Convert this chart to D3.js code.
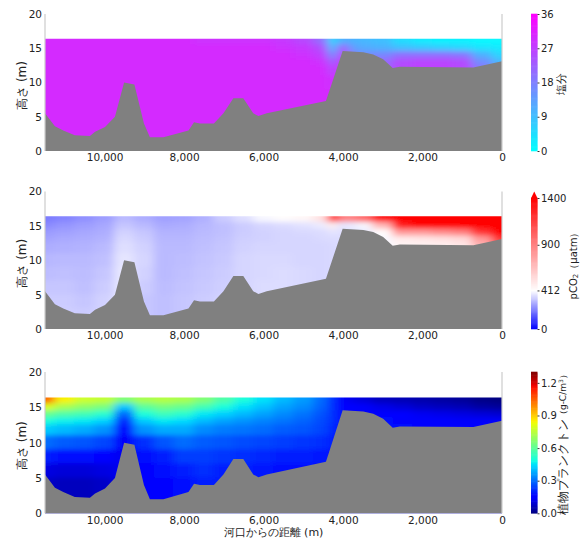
<!DOCTYPE html>
<html>
<head>
<meta charset="utf-8">
<script src="https://cdn.jsdelivr.net/npm/d3@7"></script>
<style>
  body { margin: 0; background: #fff; }
  text { font-family: "DejaVu Sans", sans-serif; }
</style>
</head>
<body>
<div id="chart"></div>
<script>
// river bed profile (distance from mouth in m, elevation in m)
const bedDist = [11500, 11250, 11040, 10750, 10370, 10240, 9990, 9740, 9510, 9250, 9010, 8860, 8520, 7890, 7750, 7600, 7250, 7010, 6760, 6510, 6260, 6130, 5920, 4430, 4010, 3490, 3240, 2990, 2750, 2570, 720, 0];
const bedElev = [5.5, 3.6, 3.0, 2.3, 2.2, 2.8, 3.5, 5.0, 10.0, 9.7, 4.0, 2.0, 2.0, 3.0, 4.2, 4.0, 4.0, 5.5, 7.7, 7.7, 5.5, 5.1, 5.5, 7.3, 14.6, 14.4, 14.1, 13.4, 12.1, 12.3, 12.2, 13.1];
const surfaceElev = 16.4;

// grid of the water-quality fields: columns (m from mouth) and rows (elevation m)
const gridDist = [11500, 11000, 10500, 10000, 9500, 9000, 8500, 8000, 7500, 7000, 6500, 6000, 5500, 5000, 4500, 4250, 4000, 3750, 3500, 3000, 2500, 2000, 1500, 1000, 500, 0];
const gridElev = [16, 15, 14, 13, 12, 10, 8, 6, 4, 2];

const salinity = [
  [30,30,30,30,30,30,30,30,29,29,29,29,28,26,21,6,12,11,10,9,5,3,2,2,1,1],
  [30,30,30,30,30,30,30,30,30,30,30,30,29,28,25,10,23,14,12,11,9,8,7,6,4,3],
  [30,30,30,30,30,30,30,30,30,30,30,30,30,29,27,16,27,18,16,17,20,20,20,19,11,6],
  [30,30,30,30,30,30,30,30,30,30,30,30,30,30,29,22,28,22,20,21,25,26,26,25,16,10],
  [30,30,30,30,30,30,30,30,30,30,30,30,30,30,30,26,29,25,24,22,26,27,27,26,19,13],
  [30,30,30,30,30,30,30,30,30,30,30,30,30,30,30,29,30,28,26,22,26,27,27,26,19,13],
  [30,30,30,30,30,30,30,30,30,30,30,30,30,30,30,30,30,28,26,22,26,27,27,26,19,13],
  [30,30,30,30,30,30,30,30,30,30,30,30,30,30,30,30,30,28,26,22,26,27,27,26,19,13],
  [30,30,30,30,30,30,30,30,30,30,30,30,30,30,30,30,30,28,26,22,26,27,27,26,19,13],
  [30,30,30,30,30,30,30,30,30,30,30,30,30,30,30,30,30,28,26,22,26,27,27,26,19,13]
];

const pco2 = [
  [200,215,235,255,300,280,260,265,285,330,360,400,420,440,520,1300,900,900,1000,1400,1500,1500,1500,1500,1500,1500],
  [225,240,255,270,320,300,275,280,295,310,330,345,355,365,380,480,370,380,400,700,1300,1400,1400,1400,1450,1500],
  [250,260,270,280,340,320,290,290,300,310,330,340,345,350,355,370,360,370,380,420,800,800,850,900,1200,1400],
  [265,275,280,290,350,330,295,295,305,315,335,340,345,345,350,355,355,360,370,400,480,500,520,550,800,1200],
  [280,285,290,300,360,340,300,300,310,320,340,345,345,345,345,350,350,355,360,400,450,460,470,500,700,1000],
  [295,300,300,310,370,345,300,305,315,325,345,350,350,345,345,350,350,355,360,400,450,460,470,500,700,1000],
  [305,310,305,320,375,340,300,310,320,330,345,350,355,350,345,350,350,355,360,400,450,460,470,500,700,1000],
  [320,320,310,330,375,330,305,315,325,335,345,355,355,350,345,350,350,355,360,400,450,460,470,500,700,1000],
  [330,330,320,340,375,320,310,320,330,340,345,355,355,350,345,350,350,355,360,400,450,460,470,500,700,1000],
  [335,335,330,340,375,320,310,320,330,340,345,355,355,350,345,350,350,355,360,400,450,460,470,500,700,1000]
];

const phyto = [
  [1.05,0.85,0.78,0.76,0.66,0.72,0.74,0.72,0.66,0.58,0.5,0.45,0.4,0.36,0.3,0.22,0.14,0.12,0.1,0.07,0.06,0.05,0.04,0.03,0.01,0.0],
  [0.8,0.72,0.68,0.65,0.42,0.6,0.64,0.62,0.56,0.5,0.45,0.41,0.37,0.34,0.29,0.22,0.16,0.15,0.14,0.12,0.1,0.08,0.07,0.06,0.04,0.03],
  [0.62,0.58,0.56,0.52,0.3,0.5,0.55,0.52,0.46,0.43,0.4,0.37,0.34,0.31,0.27,0.22,0.18,0.17,0.17,0.16,0.15,0.13,0.12,0.11,0.1,0.09],
  [0.5,0.47,0.46,0.43,0.22,0.42,0.46,0.44,0.4,0.37,0.35,0.33,0.31,0.29,0.26,0.22,0.18,0.18,0.18,0.18,0.17,0.16,0.15,0.14,0.14,0.14],
  [0.42,0.4,0.38,0.35,0.18,0.35,0.38,0.38,0.34,0.32,0.31,0.3,0.28,0.27,0.25,0.21,0.18,0.18,0.18,0.18,0.18,0.17,0.16,0.15,0.15,0.15],
  [0.3,0.28,0.27,0.25,0.14,0.22,0.27,0.3,0.28,0.27,0.26,0.25,0.24,0.23,0.22,0.2,0.18,0.18,0.18,0.18,0.18,0.17,0.16,0.15,0.15,0.15],
  [0.2,0.18,0.18,0.17,0.13,0.18,0.2,0.24,0.24,0.23,0.22,0.21,0.2,0.2,0.19,0.18,0.18,0.18,0.18,0.18,0.18,0.17,0.16,0.15,0.15,0.15],
  [0.11,0.1,0.1,0.11,0.13,0.16,0.18,0.2,0.22,0.2,0.2,0.19,0.18,0.18,0.18,0.18,0.18,0.18,0.18,0.18,0.18,0.17,0.16,0.15,0.15,0.15],
  [0.08,0.07,0.07,0.08,0.13,0.16,0.17,0.18,0.2,0.2,0.2,0.19,0.18,0.18,0.18,0.18,0.18,0.18,0.18,0.18,0.18,0.17,0.16,0.15,0.15,0.15],
  [0.08,0.07,0.07,0.08,0.13,0.16,0.17,0.18,0.2,0.2,0.2,0.19,0.18,0.18,0.18,0.18,0.18,0.18,0.18,0.18,0.18,0.17,0.16,0.15,0.15,0.15]
];

const distTicks = [10000, 8000, 6000, 4000, 2000, 0];
const heightTicks = [0, 5, 10, 15, 20];
const salTicks = [0, 9, 18, 27, 36];
const co2Ticks = [0, 412, 900, 1400];
const phyTicks = [0, 0.3, 0.6, 0.9, 1.2];

// colormaps
const coolColor = d3.scaleSequential([0, 36], d3.interpolateRgb("#00ffff", "#ff00ff")).clamp(true);
const bwrColor = d3.scaleLinear().domain([0, 412, 1400]).range(["#0000ff", "#ffffff", "#ff0000"]).clamp(true);
function channel(pts) {
  return d3.scaleLinear().domain(pts.map(p => p[0])).range(pts.map(p => p[1])).clamp(true);
}
const jr = channel([[0, 0], [0.35, 0], [0.66, 1], [0.89, 1], [1, 0.5]]);
const jg = channel([[0, 0], [0.125, 0], [0.375, 1], [0.64, 1], [0.91, 0], [1, 0]]);
const jb = channel([[0, 0.5], [0.11, 1], [0.34, 1], [0.65, 0], [1, 0]]);
const jetColor = d3.scaleSequential([0, 1.3], t => d3.rgb(jr(t) * 255, jg(t) * 255, jb(t) * 255).toString()).clamp(true);

const W = 584, H = 539;
const plotLeft = 45, plotRight = 502;
const cbX = 531, cbW = 6.5;
const CJK = '"Noto Sans CJK JP", "Noto Sans", sans-serif';

const svg = d3.select("#chart").append("svg")
  .attr("width", W).attr("height", H)
  .attr("viewBox", [0, 0, W, H].join(" "));
const defs = svg.append("defs");

const x = d3.scaleLinear().domain([11500, 0]).range([plotLeft, plotRight]);

// cell edges in data units
const distEdges = [12500].concat(d3.pairs(gridDist).map(([a, b]) => (a + b) / 2), [-1000]);
const elevEdges = [19].concat(d3.pairs(gridElev).map(([a, b]) => (a + b) / 2), [-2]);

const panels = [
  { top: 14, bottom: 151, cbTop: 14, values: salinity, color: coolColor, domain: [0, 36], ticks: salTicks, fmt: d3.format("d") },
  { top: 191.5, bottom: 329, cbTop: 198, values: pco2, color: bwrColor, domain: [0, 1400], ticks: co2Ticks, fmt: d3.format("d"), extend: true },
  { top: 372, bottom: 513.3, cbTop: 372, values: phyto, color: jetColor, domain: [0, 1.3], ticks: phyTicks, fmt: d3.format(".1f") }
];

panels.forEach((p, i) => {
  const y = d3.scaleLinear().domain([0, 20]).range([p.bottom, p.top]);
  const g = svg.append("g");

  // clip to the water body
  defs.append("clipPath").attr("id", "water" + i)
    .append("rect")
    .attr("x", plotLeft).attr("y", y(surfaceElev))
    .attr("width", plotRight - plotLeft).attr("height", y(0) - y(surfaceElev));
  defs.append("filter").attr("id", "smooth" + i)
    .attr("filterUnits", "userSpaceOnUse")
    .attr("x", 0).attr("y", 0).attr("width", W).attr("height", H)
    .append("feGaussianBlur").attr("stdDeviation", "5 2.4");

  const cells = p.values.flatMap((row, r) => row.map((v, c) => ({ r, c, v })));
  g.append("g").attr("clip-path", `url(#water${i})`)
    .append("g").attr("filter", `url(#smooth${i})`)
    .selectAll("rect").data(cells).join("rect")
    .attr("x", d => x(distEdges[d.c]) - 0.5)
    .attr("y", d => y(elevEdges[d.r]) - 0.5)
    .attr("width", d => x(distEdges[d.c + 1]) - x(distEdges[d.c]) + 1)
    .attr("height", d => y(elevEdges[d.r + 1]) - y(elevEdges[d.r]) + 1)
    .attr("fill", d => p.color(d.v));

  // river bed
  const bed = d3.zip(bedDist, bedElev);
  g.append("path").datum(bed)
    .attr("fill", "#808080")
    .attr("d", d3.area().x(d => x(d[0])).y0(y(0)).y1(d => y(d[1])));

  // spines
  [plotLeft, plotRight].forEach(sx => {
    g.append("line").attr("x1", sx).attr("x2", sx).attr("y1", y(20)).attr("y2", y(0))
      .attr("stroke", "#cccccc").attr("stroke-width", 1.2);
  });

  // axes
  const ya = g.append("g").attr("transform", `translate(${plotLeft},0)`)
    .call(d3.axisLeft(y).tickValues(heightTicks).tickSize(0).tickPadding(3));
  ya.select(".domain").remove();
  const xa = g.append("g").attr("transform", `translate(0,${y(0)})`)
    .call(d3.axisBottom(x).tickValues(distTicks).tickFormat(d3.format(",")).tickSize(0).tickPadding(3));
  xa.select(".domain").remove();
  g.selectAll(".tick text").attr("font-size", 10.5).attr("fill", "#222")
    .attr("font-family", '"DejaVu Sans", sans-serif');

  g.append("text")
    .attr("transform", `translate(22,${(p.top + p.bottom) / 2 + 3}) rotate(-90)`)
    .attr("text-anchor", "middle").attr("dominant-baseline", "central")
    .attr("font-family", CJK).attr("font-size", 12).attr("fill", "#222")
    .text("高さ (m)");

  // colorbar
  const cy = d3.scaleLinear().domain(p.domain).range([p.bottom, p.cbTop]);
  const steps = d3.range(0, 120).map(k => p.domain[0] + (p.domain[1] - p.domain[0]) * k / 120);
  const stepH = (p.bottom - p.cbTop) / 120;
  g.append("g").selectAll("rect").data(steps).join("rect")
    .attr("x", cbX).attr("width", cbW)
    .attr("y", d => cy(d) - stepH - 0.3).attr("height", stepH + 0.6)
    .attr("fill", d => p.color(d + (p.domain[1] - p.domain[0]) / 240));
  if (p.extend) {
    const base = cy(p.domain[1]);
    g.append("path")
      .attr("d", `M${cbX},${base + 0.3}L${cbX + cbW / 2},${p.top}L${cbX + cbW},${base + 0.3}Z`)
      .attr("fill", p.color(p.domain[1]));
  }
  const ca = g.append("g").attr("transform", `translate(${cbX + cbW},0)`)
    .call(d3.axisRight(cy).tickValues(p.ticks).tickFormat(p.fmt).tickSize(2).tickPadding(1.5));
  ca.select(".domain").remove();
  ca.selectAll(".tick line").attr("stroke", "#333");
  ca.selectAll(".tick text").attr("font-size", 10).attr("fill", "#222")
    .attr("font-family", '"DejaVu Sans", sans-serif');
});

// colorbar titles
svg.append("text")
  .attr("transform", `translate(561,${(panels[0].top + panels[0].bottom) / 2 + 1}) rotate(-90)`)
  .attr("text-anchor", "middle").attr("dominant-baseline", "central")
  .attr("font-family", CJK).attr("font-size", 11).attr("fill", "#222")
  .text("塩分");

const t2 = svg.append("text")
  .attr("transform", `translate(573,${(panels[1].cbTop + panels[1].bottom) / 2}) rotate(-90)`)
  .attr("text-anchor", "middle").attr("dominant-baseline", "central")
  .attr("font-family", CJK).attr("font-size", 10).attr("fill", "#222");
t2.append("tspan").text("pCO");
t2.append("tspan").attr("font-size", 7).attr("dy", 2.5).text("2");
t2.append("tspan").attr("dy", -2.5).text("（μatm）");

const t3 = svg.append("text")
  .attr("transform", `translate(563,${(panels[2].top + panels[2].bottom) / 2}) rotate(-90)`)
  .attr("text-anchor", "middle").attr("dominant-baseline", "central")
  .attr("font-family", CJK).attr("font-size", 11.5).attr("fill", "#222");
t3.append("tspan").text("植物プランクトン");
t3.append("tspan").attr("font-size", 9).text("（g-C/m");
t3.append("tspan").attr("font-size", 6).attr("dy", -3).text("3");
t3.append("tspan").attr("font-size", 9).attr("dy", 3).text("）");

// x axis title
svg.append("text")
  .attr("x", (plotLeft + plotRight) / 2).attr("y", 532.5)
  .attr("text-anchor", "middle").attr("dominant-baseline", "central")
  .attr("font-family", CJK).attr("font-size", 11).attr("fill", "#222")
  .text("河口からの距離 (m)");
</script>
</body>
</html>
